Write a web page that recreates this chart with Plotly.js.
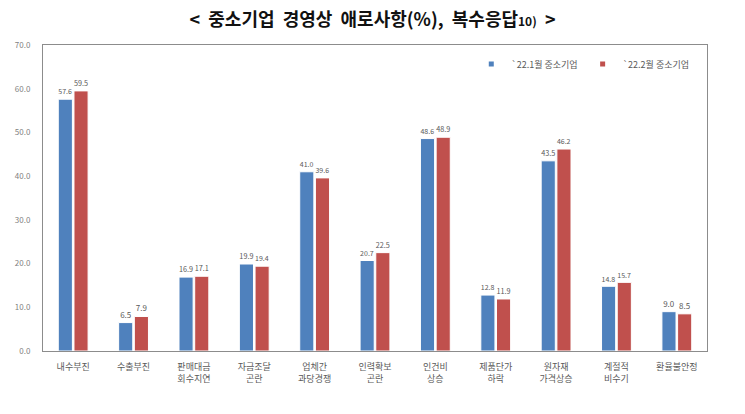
<!DOCTYPE html>
<html>
<head>
<meta charset="utf-8">
<script src="https://cdn.plot.ly/plotly-3.0.1.min.js"></script>
<style>
  html, body { margin: 0; padding: 0; background: #fff; }
  #chart { width: 745px; height: 414px; }
</style>
</head>
<body>
<div id="chart"></div>
<script>
// Chart data
const categories = ['내수부진', '수출부진', '판매대금<br>회수지연', '자금조달<br>곤란', '업체간<br>과당경쟁',
    '인력확보<br>곤란', '인건비<br>상승', '제품단가<br>하락', '원자재<br>가격상승', '계절적<br>비수기', '환율불안정'];
const jan22 = [57.6, 6.5, 16.9, 19.9, 41.0, 20.7, 48.6, 12.8, 43.5, 14.8, 9.0];
const feb22 = [59.5, 7.9, 17.1, 19.4, 39.6, 22.5, 48.9, 11.9, 46.2, 15.7, 8.5];
const seriesNames = ["`22.1월 중소기업", "`22.2월 중소기업"];
const seriesColors = ['#4f81bd', '#c0504d'];
const yTicks = [0, 10, 20, 30, 40, 50, 60, 70];

const FONT = '"Noto Sans CJK KR", "Noto Sans", sans-serif';

function barTrace(i, values) {
    return {
        type: 'bar',
        name: seriesNames[i],
        x: categories,
        y: values,
        marker: {color: seriesColors[i], line: {color: '#ffffff', width: 1}},
        texttemplate: '%{y:.1f}',
        textposition: 'outside',
        textfont: {size: 8, color: '#595959', family: FONT},
        cliponaxis: false,
        showlegend: false,
        hoverinfo: 'x+y'
    };
}

// small square legend keys, like the original
function legendKey(i) {
    return {
        type: 'scatter',
        mode: 'markers',
        name: seriesNames[i],
        x: [null],
        y: [null],
        marker: {symbol: 'square', size: 5, color: seriesColors[i]},
        showlegend: true,
        hoverinfo: 'skip'
    };
}

const traces = [barTrace(0, jan22), barTrace(1, feb22), legendKey(0), legendKey(1)];

const sp = '\u00a0\u00a0';
const layout = {
    width: 745,
    height: 414,
    paper_bgcolor: '#ffffff',
    plot_bgcolor: '#ffffff',
    margin: {l: 43, r: 38, t: 45, b: 63},
    font: {family: FONT, color: '#595959'},
    title: {
        text: '<' + sp + '중소기업' + sp + '경영상' + sp + '애로사항(%),' + sp + '복수응답<span style="font-size:12px">10)</span>' + sp + '>',
        font: {family: FONT, size: 18, color: '#111111', weight: 'bold'},
        x: 0.5,
        xanchor: 'center',
        y: 0.952,
        yanchor: 'middle'
    },
    barmode: 'group',
    bargap: 0.48,
    bargroupgap: 0.1,
    showlegend: true,
    legend: {
        orientation: 'h',
        x: 0.645,
        xanchor: 'left',
        y: 0.985,
        yanchor: 'top',
        font: {size: 9, color: '#595959', family: FONT},
        itemwidth: 30,
        itemsizing: 'trace',
        bgcolor: 'rgba(0,0,0,0)',
        traceorder: 'normal'
    },
    xaxis: {
        showgrid: false,
        showline: true,
        linecolor: '#8c8c8c',
        linewidth: 1,
        mirror: true,
        ticks: '',
        ticklabelstandoff: 7,
        tickfont: {size: 9, color: '#595959', family: FONT},
        fixedrange: true
    },
    yaxis: {
        range: [0, 70],
        tickvals: yTicks,
        tickformat: '.1f',
        showgrid: false,
        zeroline: false,
        showline: true,
        linecolor: '#8c8c8c',
        linewidth: 1,
        mirror: true,
        ticks: '',
        ticklabelstandoff: 10,
        tickfont: {size: 8, color: '#7f7f7f', family: FONT},
        fixedrange: true
    }
};

Plotly.newPlot('chart', traces, layout, {displayModeBar: false, staticPlot: true});
</script>
</body>
</html>
